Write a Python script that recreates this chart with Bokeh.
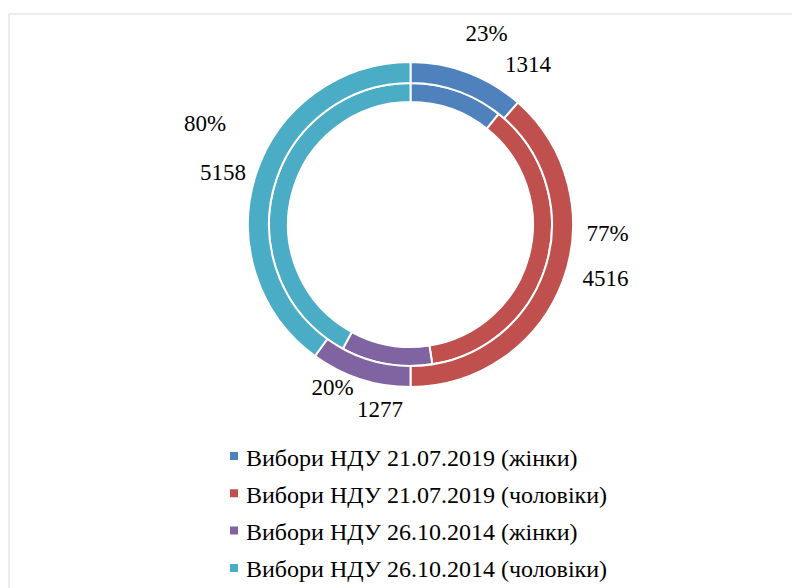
import numpy as np
from bokeh.plotting import figure
from bokeh.models import Range1d, ColumnDataSource
from bokeh.core.properties import value
from bokeh.embed import file_html
from bokeh.resources import INLINE

# ---------------- data ----------------
categories = [
    "Вибори НДУ 21.07.2019 (жінки)",
    "Вибори НДУ 21.07.2019 (чоловіки)",
    "Вибори НДУ 26.10.2014 (жінки)",
    "Вибори НДУ 26.10.2014 (чоловіки)",
]
counts = [1314, 4516, 1277, 5158]      # inner ring
percents = [23, 77, 20, 80]            # outer ring
colors = ["#4F81BD", "#C0504D", "#8064A2", "#4BACC6"]

count_labels = [str(v) for v in counts]
percent_labels = [f"{v}%" for v in percents]

# ---------------- layout (pixels) ----------------
W, H = 792, 588
CX, CY = 410, 224          # doughnut centre, px from figure's top-left
FONT = value("Liberation Serif")
FS_LABEL = "23px"
FS_LEGEND = "24px"

# label anchors relative to centre (x centre, baseline y)
pct_pos = [(76, 191), (197, -9), (-78, -163), (-205.5, 101)]
cnt_pos = [(117.5, 160), (195, -54), (-30.5, -185), (-187.5, 52)]

p = figure(width=W, height=H,
           x_range=Range1d(-CX, W - CX), y_range=Range1d(-(H - CY), CY),
           x_axis_type=None, y_axis_type=None,
           output_backend="svg", toolbar_location=None, min_border=0)
p.grid.visible = False
p.outline_line_color = None
p.background_fill_color = "white"
p.border_fill_color = "white"

# chart-area border (light gray, left and top edges visible)
bx, by = 8.5 - CX, CY - 13.5
p.line(x=[bx, bx, 5000], y=[-5000, by, by], line_color="#d9d9d9", line_width=1)


def ring(vals, r_in, r_out):
    vals = list(vals)
    cum = np.cumsum([0] + vals) / float(sum(vals))
    start = np.pi / 2 - 2 * np.pi * cum[:-1]
    end = np.pi / 2 - 2 * np.pi * cum[1:]
    src = ColumnDataSource(dict(start=start, end=end, color=colors, cat=categories))
    p.annular_wedge(x=0, y=0, inner_radius=r_in, outer_radius=r_out,
                    start_angle="start", end_angle="end", direction="clock",
                    fill_color="color", line_color="white", line_width=2,
                    source=src)


ring(counts, 122.5, 141.5)
ring(percents, 141.5, 162.5)

# data labels
p.text(x=[q[0] for q in pct_pos], y=[q[1] for q in pct_pos], text=percent_labels,
       text_font=FONT, text_font_size=FS_LABEL, text_align="center",
       text_baseline="alphabetic", text_color="black")
p.text(x=[q[0] for q in cnt_pos], y=[q[1] for q in cnt_pos], text=count_labels,
       text_font=FONT, text_font_size=FS_LABEL, text_align="center",
       text_baseline="alphabetic", text_color="black")

# legend (manual)
pitch = 37.3
rows = np.arange(len(categories))
p.scatter(x=[-176.5] * len(categories), y=list(-231.5 - rows * pitch), marker="square",
          size=8, fill_color=colors, line_color=None)
p.text(x=[-164.5] * len(categories), y=list(-233 - rows * pitch), text=categories,
       text_font=FONT, text_font_size=FS_LEGEND, text_align="left",
       text_baseline="alphabetic", text_color="black")

open("out.html", "w").write(file_html(p, INLINE))
